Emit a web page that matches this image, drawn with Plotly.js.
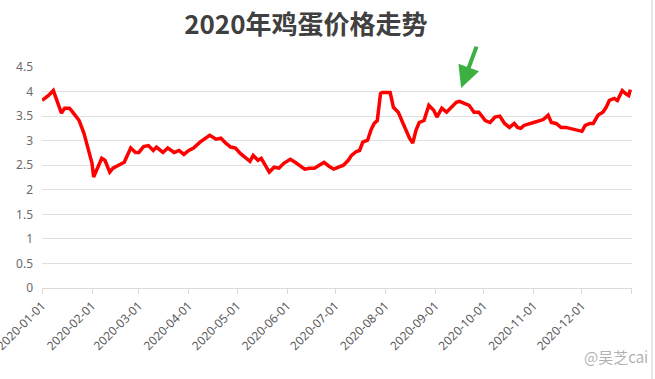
<!DOCTYPE html>
<html>
<head>
<meta charset="utf-8">
<script src="https://cdn.plot.ly/plotly-3.0.1.min.js"></script>
<style>html,body{margin:0;padding:0;background:#fff;}#chart{width:655px;height:379px;}</style>
</head>
<body>
<div id="chart"></div>
<script>
const chartTitle = '2020年鸡蛋价格走势';

const dates = [
  '2020-01-01','2020-01-05','2020-01-08','2020-01-10','2020-01-12','2020-01-13','2020-01-15','2020-01-18','2020-01-20','2020-01-24','2020-01-27','2020-01-30',
  '2020-02-01','2020-02-02','2020-02-04','2020-02-07','2020-02-09','2020-02-12','2020-02-14','2020-02-17','2020-02-21','2020-02-25','2020-02-28',
  '2020-03-01','2020-03-04','2020-03-07','2020-03-10','2020-03-12','2020-03-16','2020-03-19','2020-03-23','2020-03-26','2020-03-29',
  '2020-04-01','2020-04-04','2020-04-08','2020-04-11','2020-04-14','2020-04-18','2020-04-21','2020-04-24','2020-04-27','2020-04-30',
  '2020-05-03','2020-05-06','2020-05-09','2020-05-11','2020-05-14','2020-05-16','2020-05-19','2020-05-21','2020-05-24','2020-05-27','2020-05-30',
  '2020-06-03','2020-06-06','2020-06-09','2020-06-12','2020-06-15','2020-06-18','2020-06-21','2020-06-24','2020-06-27','2020-06-30',
  '2020-07-03','2020-07-06','2020-07-09','2020-07-11','2020-07-14','2020-07-16','2020-07-18','2020-07-21','2020-07-23','2020-07-25','2020-07-27','2020-07-29','2020-07-30',
  '2020-08-04','2020-08-06','2020-08-09','2020-08-12','2020-08-16','2020-08-18','2020-08-20','2020-08-22','2020-08-25','2020-08-28','2020-08-31',
  '2020-09-02','2020-09-05','2020-09-08','2020-09-11','2020-09-14','2020-09-16','2020-09-19','2020-09-22','2020-09-25','2020-09-28',
  '2020-10-02','2020-10-05','2020-10-08','2020-10-11','2020-10-14','2020-10-17','2020-10-20','2020-10-22','2020-10-24','2020-10-26',
  '2020-11-01','2020-11-07','2020-11-10','2020-11-12','2020-11-15','2020-11-18','2020-11-21','2020-11-24','2020-11-27',
  '2020-12-01','2020-12-03','2020-12-06','2020-12-08','2020-12-11','2020-12-14','2020-12-16','2020-12-18','2020-12-21','2020-12-23','2020-12-26','2020-12-28','2020-12-30','2020-12-31'
];

const prices = [
  3.82,3.92,4.02,3.82,3.66,3.56,3.66,3.66,3.58,3.41,3.15,2.80,
  2.54,2.26,2.40,2.64,2.60,2.36,2.44,2.50,2.56,2.85,2.76,
  2.76,2.88,2.90,2.80,2.87,2.76,2.85,2.76,2.80,2.72,
  2.80,2.85,2.97,3.05,3.11,3.03,3.05,2.95,2.87,2.85,
  2.74,2.66,2.58,2.70,2.60,2.64,2.46,2.36,2.46,2.44,2.54,
  2.62,2.56,2.50,2.42,2.44,2.44,2.50,2.56,2.48,2.42,
  2.46,2.50,2.60,2.70,2.78,2.80,2.97,3.01,3.21,3.35,3.41,3.96,3.98,
  3.98,3.68,3.58,3.35,3.05,2.95,3.21,3.37,3.41,3.72,3.62,
  3.48,3.66,3.58,3.68,3.78,3.80,3.76,3.72,3.58,3.58,
  3.41,3.37,3.48,3.50,3.35,3.27,3.35,3.27,3.25,3.31,
  3.37,3.43,3.52,3.37,3.35,3.27,3.27,3.25,3.23,
  3.19,3.31,3.35,3.35,3.52,3.58,3.68,3.82,3.86,3.82,4.02,3.96,3.92,4.04
];

const monthTicks = ['2020-01-01','2020-02-01','2020-03-01','2020-04-01','2020-05-01','2020-06-01','2020-07-01','2020-08-01','2020-09-01','2020-10-01','2020-11-01','2020-12-01','2021-01-01'];
const monthLabels = ['2020-01-01','2020-02-01','2020-03-01','2020-04-01','2020-05-01','2020-06-01','2020-07-01','2020-08-01','2020-09-01','2020-10-01','2020-11-01','2020-12-01',''];

const arrowDate = '2020-09-17';
const arrowValue = 4.07;
const watermark = '@吴芝cai';

const trace = {
  x: dates, y: prices, type: 'scatter', mode: 'lines',
  line: {color: '#ff0000', width: 3.5},
  hoverinfo: 'skip'
};

const layout = {
  width: 655, height: 379,
  margin: {l: 42, r: 23, t: 67, b: 91},
  paper_bgcolor: '#ffffff', plot_bgcolor: '#ffffff',
  showlegend: false,
  title: {
    text: '<b>' + chartTitle + '</b>',
    font: {family: 'Noto Sans CJK SC, sans-serif', size: 26, color: '#404040'},
    x: 0.467, xref: 'container', xanchor: 'center',
    y: 0.935, yref: 'container', yanchor: 'middle'
  },
  xaxis: {
    type: 'date',
    range: ['2019-12-31 23:00', '2021-01-01 01:00'],
    tickmode: 'array', tickvals: monthTicks, ticktext: monthLabels,
    tickangle: -45,
    ticklabeloverflow: 'allow',
    tickfont: {family: 'Noto Sans, sans-serif', size: 12, color: '#595959'},
    showgrid: false, zeroline: false,
    showline: true, linecolor: '#d9d9d9', linewidth: 1,
    ticks: 'outside', ticklen: 5, tickcolor: '#d9d9d9'
  },
  yaxis: {
    range: [0, 4.5], dtick: 0.5, tick0: 0,
    tickfont: {family: 'Noto Sans, sans-serif', size: 12, color: '#6b6b6b'},
    showgrid: true, gridcolor: '#e0e0e0', gridwidth: 1,
    zeroline: false, showline: false, ticks: '',
    ticklabelstandoff: 8
  },
  annotations: [
    {
      x: arrowDate, y: arrowValue, xref: 'x', yref: 'y',
      showarrow: true, ax: 16, ay: -43,
      arrowcolor: '#3cb043', arrowwidth: 4, arrowhead: 2, arrowsize: 1.1,
      text: ''
    },
    {
      x: 1.03, y: -0.31, xref: 'paper', yref: 'paper',
      xanchor: 'right', yanchor: 'middle', showarrow: false,
      text: watermark,
      font: {family: 'Noto Sans CJK SC, sans-serif', size: 15, color: 'rgba(150,150,150,0.75)'}
    }
  ],
  shapes: [
    {type: 'line', xref: 'paper', yref: 'paper', x0: 1.034, x1: 1.034, y0: -0.42, y1: 1.31,
     line: {color: '#d0d0d0', width: 1}}
  ]
};

Plotly.newPlot('chart', [trace], layout, {displayModeBar: false, staticPlot: true});
</script>
</body>
</html>
